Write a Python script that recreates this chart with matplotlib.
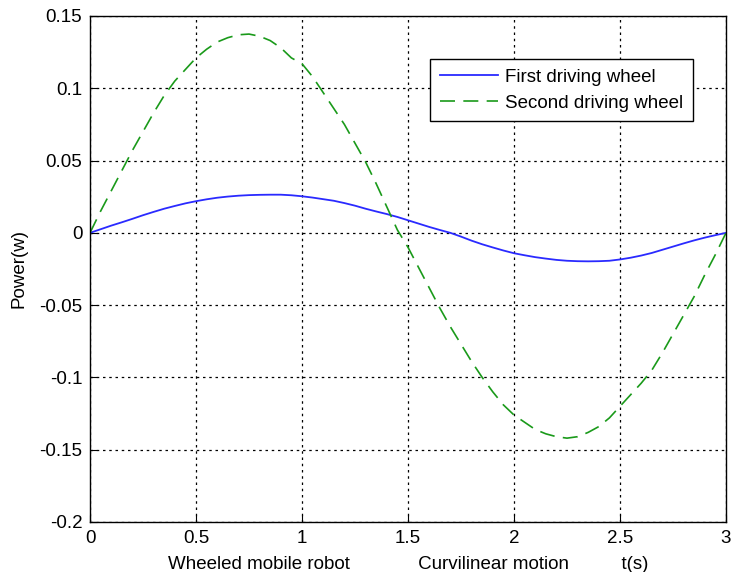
import matplotlib
matplotlib.use('Agg')
import matplotlib.pyplot as plt

plt.rcParams['font.family'] = ['Liberation Sans', 'DejaVu Sans']

# time samples (s)
t = [0.00, 0.05, 0.10, 0.15, 0.20, 0.25, 0.30, 0.35, 0.40, 0.45,
     0.50, 0.55, 0.60, 0.65, 0.70, 0.75, 0.80, 0.85, 0.90, 0.95,
     1.00, 1.05, 1.10, 1.15, 1.20, 1.25, 1.30, 1.35, 1.40, 1.45,
     1.50, 1.55, 1.60, 1.65, 1.70, 1.75, 1.80, 1.85, 1.90, 1.95,
     2.00, 2.05, 2.10, 2.15, 2.20, 2.25, 2.30, 2.35, 2.40, 2.45,
     2.50, 2.55, 2.60, 2.65, 2.70, 2.75, 2.80, 2.85, 2.90, 2.95, 3.00]

# power of first driving wheel (w)
p_first = [0.0000, 0.0025, 0.0050, 0.0073, 0.0097, 0.0122, 0.0145, 0.0167, 0.0186, 0.0204,
           0.0219, 0.0232, 0.0243, 0.0251, 0.0257, 0.0261, 0.0263, 0.0264, 0.0264, 0.0260,
           0.0253, 0.0244, 0.0233, 0.0222, 0.0206, 0.0188, 0.0167, 0.0148, 0.0130, 0.0110,
           0.0087, 0.0064, 0.0041, 0.0020, 0.0000, -0.0026, -0.0054, -0.0079, -0.0101, -0.0122,
           -0.0141, -0.0155, -0.0168, -0.0178, -0.0187, -0.0193, -0.0196, -0.0197, -0.0196, -0.0193,
           -0.0184, -0.0172, -0.0157, -0.0139, -0.0117, -0.0095, -0.0073, -0.0052, -0.0033, -0.0016, 0.0000]

# power of second driving wheel (w)
p_second = [0.000, 0.015, 0.029, 0.043, 0.057, 0.070, 0.083, 0.095, 0.105, 0.113,
            0.121, 0.127, 0.132, 0.135, 0.137, 0.1375, 0.136, 0.133, 0.128, 0.121,
            0.117, 0.108, 0.097, 0.086, 0.075, 0.062, 0.049, 0.034, 0.018, 0.002,
            -0.010, -0.024, -0.038, -0.052, -0.065, -0.077, -0.089, -0.100, -0.110, -0.119,
            -0.126, -0.131, -0.136, -0.139, -0.141, -0.142, -0.141, -0.138, -0.134, -0.128,
            -0.120, -0.112, -0.104, -0.095, -0.083, -0.070, -0.057, -0.044, -0.029, -0.015, 0.000]

xticks = [0, 0.5, 1, 1.5, 2, 2.5, 3]
xtick_labels = ['0', '0.5', '1', '1.5', '2', '2.5', '3']
yticks = [-0.2, -0.15, -0.1, -0.05, 0, 0.05, 0.1, 0.15]
ytick_labels = ['-0.2', '-0.15', '-0.1', '-0.05', '0', '0.05', '0.1', '0.15']

fig = plt.figure(figsize=(7.32, 5.72), dpi=100)
ax = fig.add_axes([90/732, 1 - 522/572, 636/732, 506/572])

ax.plot(t, p_first, color='#2a2aff', lw=1.3, label='First driving wheel')
ax.plot(t, p_second, color='#1a9a1a', lw=1.2, dashes=(9, 5), label='Second driving wheel')

ax.set_xlim(0, 3)
ax.set_ylim(-0.2, 0.15)
ax.set_xticks(xticks)
ax.set_xticklabels(xtick_labels)
ax.set_yticks(yticks)
ax.set_yticklabels(ytick_labels)
ax.tick_params(direction='in', labelsize=13.5, length=5, pad=5.5)
ax.grid(True, color='black', linestyle=(0, (2, 3)), linewidth=0.9)
for s in ax.spines.values():
    s.set_linewidth(1.0)

ax.set_xlabel('Wheeled mobile robot' + ' ' * 13 + 'Curvilinear motion' + ' ' * 10 + 't(s)',
              fontsize=13.5, labelpad=7)
ax.set_ylabel('Power(w)', fontsize=13.5, labelpad=8.5)

leg = ax.legend(loc='upper right', bbox_to_anchor=(0.948, 0.915), borderaxespad=0,
                fontsize=13.5, fancybox=False, edgecolor='black', framealpha=1,
                handlelength=3.1, handletextpad=0.4, borderpad=0.5, labelspacing=0.5)
leg.get_frame().set_linewidth(1.0)

fig.savefig('out.png', dpi=100)
